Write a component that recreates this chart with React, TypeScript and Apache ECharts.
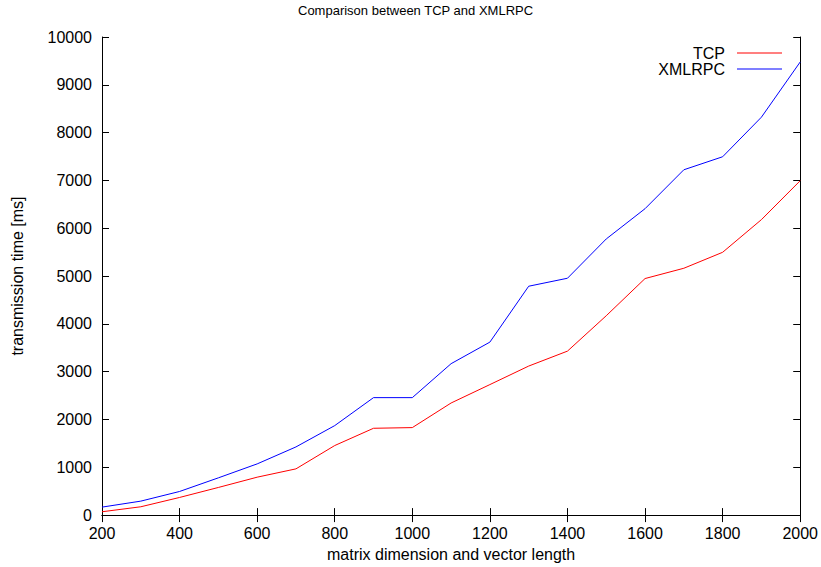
import React, { useEffect, useRef } from "react";
import * as echarts from "echarts";

const dimensions = [200, 300, 400, 500, 600, 700, 800, 900, 1000, 1100, 1200, 1300, 1400, 1500, 1600, 1700, 1800, 1900, 2000];
const tcpTimes = [70, 174, 369, 578, 793, 967, 1455, 1816, 1830, 2345, 2730, 3117, 3430, 4170, 4948, 5163, 5497, 6180, 6994];
const xmlrpcTimes = [167, 292, 494, 779, 1071, 1426, 1872, 2457, 2457, 3167, 3618, 4787, 4954, 5776, 6409, 7223, 7495, 8323, 9478];

const FONT = "'Liberation Sans', Arial, Helvetica, sans-serif";

export default function App() {
  const ref = useRef<HTMLDivElement>(null);
  useEffect(() => {
    if (!ref.current) return;
    const chart = echarts.init(ref.current, undefined, { renderer: "svg" });
    const axisLine = { show: true, lineStyle: { color: "#000", width: 1 } };
    const tick = { show: true, inside: true, length: 7, lineStyle: { color: "#000", width: 1 } };
    const plain = (v: number) => String(v);
    chart.setOption({
      animation: false,
      backgroundColor: "#fff",
      textStyle: { fontFamily: FONT },
      title: {
        text: "Comparison between TCP and XMLRPC",
        left: 298,
        top: 4,
        padding: 0,
        textStyle: { fontFamily: FONT, fontSize: 13, fontWeight: "normal", color: "#000" },
      },
      legend: {
        orient: "vertical",
        right: 39,
        top: 45,
        padding: 0,
        align: "right",
        icon: "rect",
        itemWidth: 45,
        itemHeight: 1,
        itemGap: 0,
        textStyle: { fontFamily: FONT, fontSize: 16, color: "#000", padding: [0, 7, 0, 0], lineHeight: 16 },
        data: ["TCP", "XMLRPC"],
      },
      grid: { left: 102, right: 19, top: 37, bottom: 51, containLabel: false },
      xAxis: [
        {
          type: "value",
          min: 200,
          max: 2000,
          interval: 200,
          name: "matrix dimension and vector length",
          nameLocation: "middle",
          nameGap: 30,
          nameTextStyle: { fontFamily: FONT, fontSize: 16, color: "#000" },
          axisLine,
          axisTick: tick,
          axisLabel: { color: "#000", fontSize: 16, fontFamily: FONT, margin: 10, formatter: plain },
          splitLine: { show: false },
        },
        {
          type: "value",
          position: "top",
          min: 200,
          max: 2000,
          interval: 200,
          axisLine,
          axisTick: tick,
          axisLabel: { show: false },
          splitLine: { show: false },
        },
      ],
      yAxis: [
        {
          type: "value",
          min: 0,
          max: 10000,
          interval: 1000,
          name: "transmission time [ms]",
          nameLocation: "middle",
          nameGap: 77,
          nameTextStyle: { fontFamily: FONT, fontSize: 16, color: "#000" },
          axisLine,
          axisTick: tick,
          axisLabel: { color: "#000", fontSize: 16, fontFamily: FONT, margin: 10, formatter: plain },
          splitLine: { show: false },
        },
        {
          type: "value",
          position: "right",
          min: 0,
          max: 10000,
          interval: 1000,
          axisLine,
          axisTick: tick,
          axisLabel: { show: false },
          splitLine: { show: false },
        },
      ],
      series: [
        {
          name: "TCP",
          type: "line",
          data: dimensions.map((d, i) => [d, tcpTimes[i]]),
          showSymbol: false,
          symbol: "none",
          lineStyle: { color: "#ff0000", width: 1 },
          itemStyle: { color: "#ff0000" },
        },
        {
          name: "XMLRPC",
          type: "line",
          data: dimensions.map((d, i) => [d, xmlrpcTimes[i]]),
          showSymbol: false,
          symbol: "none",
          lineStyle: { color: "#0000ff", width: 1 },
          itemStyle: { color: "#0000ff" },
        },
      ],
    });
    return () => chart.dispose();
  }, []);
  return <div ref={ref} style={{ width: 821, height: 567, position: "absolute", left: 0, top: 0 }} />;
}
